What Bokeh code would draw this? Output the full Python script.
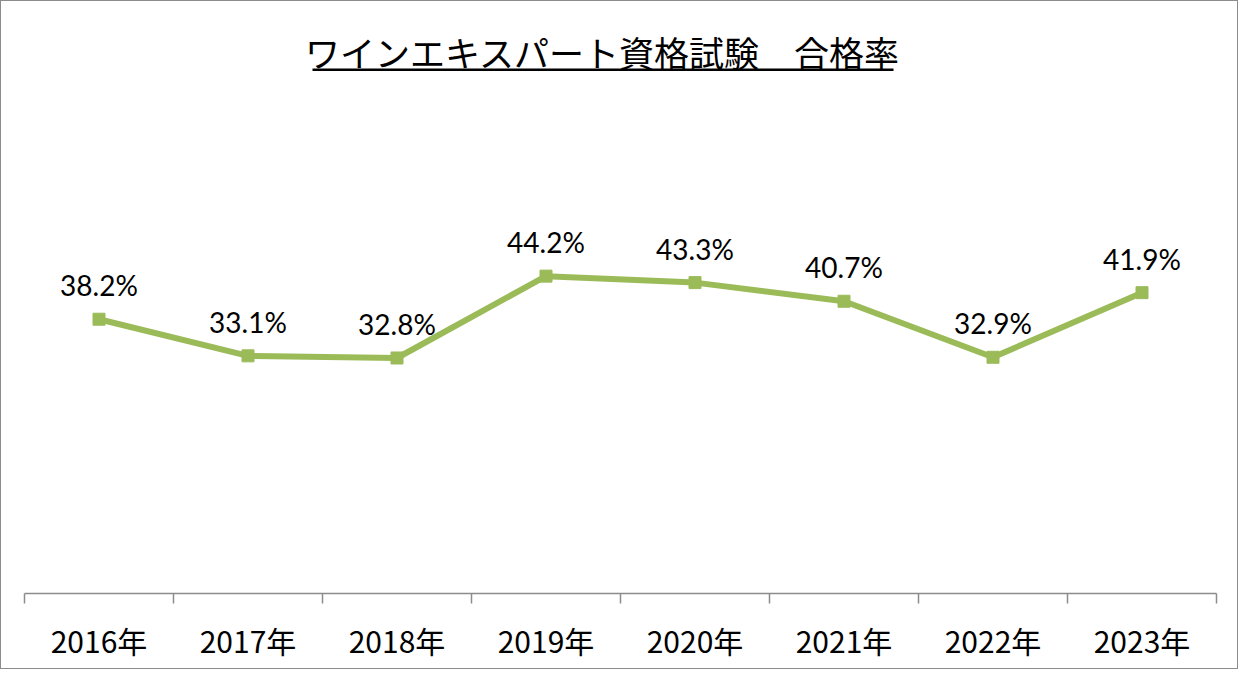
from bokeh.plotting import figure
from bokeh.models import Range1d, FixedTicker, ColumnDataSource, Label, BoxAnnotation
from bokeh.core.properties import value
from bokeh.embed import file_html
from bokeh.resources import INLINE

title_text = "ワインエキスパート資格試験　合格率"
years = ["2016年", "2017年", "2018年", "2019年", "2020年", "2021年", "2022年", "2023年"]
rates = [38.2, 33.1, 32.8, 44.2, 43.3, 40.7, 32.9, 41.9]

GREEN = "#9BBB59"
W, H = 1238, 669
LEFT, RIGHT, BOTTOM = 23, 23, 77
frame_h = H - BOTTOM
PX_PER_UNIT = 718.0  # pixels per 100%
y_top = frame_h / PX_PER_UNIT
CAT_W = (W - LEFT - RIGHT) / len(years)

xs = [i + 0.5 for i in range(len(years))]
src = ColumnDataSource(dict(x=xs, y=[r / 100 for r in rates],
                            lab=[f"{r:.1f}%" for r in rates]))

p = figure(width=W, height=H, output_backend="svg", toolbar_location=None,
           x_range=Range1d(0, len(years)), y_range=Range1d(0, y_top),
           min_border_left=LEFT, min_border_right=RIGHT,
           min_border_top=0, min_border_bottom=BOTTOM)
p.styles = {"border": "1px solid #8c8c8c"}
p.outline_line_color = None
p.xgrid.visible = False
p.ygrid.visible = False
p.yaxis.visible = False

ax = p.xaxis[0]
ax.ticker = FixedTicker(ticks=xs, minor_ticks=list(range(len(years) + 1)))
ax.major_label_overrides = {x: y for x, y in zip(xs, years)}
ax.major_tick_line_color = None
ax.major_tick_out = 0
ax.major_tick_in = 0
ax.minor_tick_line_color = "#8c8c8c"
ax.minor_tick_line_width = 1.5
ax.minor_tick_out = 10
ax.minor_tick_in = 0
ax.axis_line_color = "#8c8c8c"
ax.axis_line_width = 1.5
ax.major_label_text_font = "Noto Sans CJK JP"
ax.major_label_text_font_size = "30px"
ax.major_label_text_color = "black"
ax.major_label_standoff = 14

p.line("x", "y", source=src, line_color=GREEN, line_width=6)
p.scatter("x", "y", source=src, marker="square", size=12, fill_color=GREEN,
          line_color=GREEN)
p.text("x", "y", text="lab", source=src, text_align="center",
       text_baseline="bottom", y_offset=-17, text_font=value("Lato"),
       text_font_size="28px", text_color="black")

# title + underline (positions in pixels converted to data units)
def px_to_x(px):
    return (px - LEFT) / CAT_W

def px_to_y(py):
    return (frame_h - py) / PX_PER_UNIT

p.add_layout(Label(x=px_to_x(601), y=px_to_y(50), text=title_text,
                   text_align="center", text_baseline="middle",
                   text_font="Noto Sans CJK JP", text_font_size="35px",
                   text_color="black"))
p.add_layout(BoxAnnotation(left=px_to_x(311), right=px_to_x(892),
                           top=px_to_y(67), bottom=px_to_y(69.5),
                           fill_color="black", fill_alpha=1, line_color=None))

open("out.html", "w").write(file_html(p, INLINE))
